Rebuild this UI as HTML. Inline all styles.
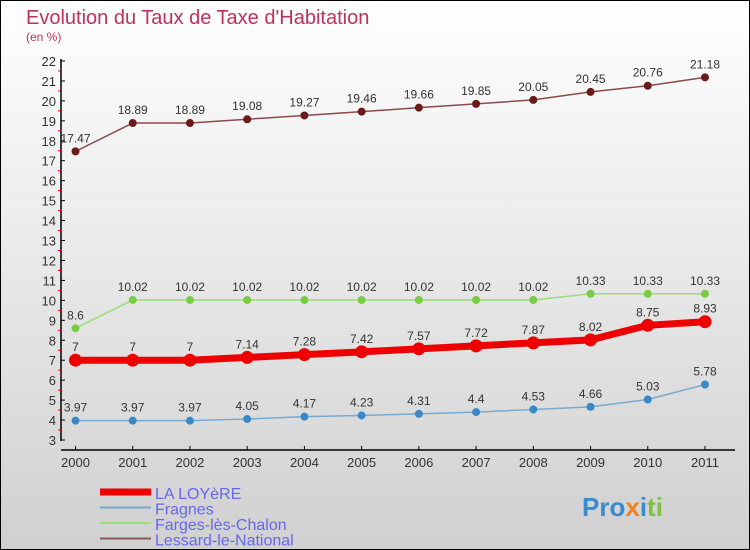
<!DOCTYPE html>
<html><head><meta charset="utf-8"><style>
body{margin:0}
#c{width:750px;height:550px;position:relative;box-sizing:border-box;border:1px solid #000;background:linear-gradient(#fff,#d0d0d0);font-family:"Liberation Sans",sans-serif;overflow:hidden}
</style></head><body>
<div id="c">
<svg id="s" width="750" height="550" style="position:absolute;left:-1px;top:-1px">
<text x="26" y="24" font-size="20" fill="#c0305a">Evolution du Taux de Taxe d'Habitation</text>
<text x="26" y="41" font-size="12" fill="#c0305a">(en %)</text>
</svg>
</div>
<script>
const years=['2000','2001','2002','2003','2004','2005','2006','2007','2008','2009','2010','2011'];
const loyere=[7,7,7,7.14,7.28,7.42,7.57,7.72,7.87,8.02,8.75,8.93];
const fragnes=[3.97,3.97,3.97,4.05,4.17,4.23,4.31,4.4,4.53,4.66,5.03,5.78];
const farges=[8.6,10.02,10.02,10.02,10.02,10.02,10.02,10.02,10.02,10.33,10.33,10.33];
const lessard=[17.47,18.89,18.89,19.08,19.27,19.46,19.66,19.85,20.05,20.45,20.76,21.18];
const yTicks=[3,4,5,6,7,8,9,10,11,12,13,14,15,16,17,18,19,20,21,22];
const svg=document.getElementById('s');const NS='http://www.w3.org/2000/svg';
function X(i){return 75.5+i*(705-75.5)/(years.length-1);}
function Y(v){return 440-(v-3)*(379/19);}
function el(t,a,p){const e=document.createElementNS(NS,t);for(const k in a)e.setAttribute(k,a[k]);(p||svg).appendChild(e);return e;}
let ax=el('line',{x1:61,y1:59,x2:61,y2:441,stroke:'#000','stroke-width':1.5});

let xa=el('line',{x1:61,y1:450,x2:735,y2:450,stroke:'#000','stroke-width':1.5});

yTicks.forEach(v=>{const y=Y(v);
 el('line',{x1:61,y1:y,x2:65,y2:y,stroke:'#000'});
 if(v<22)el('line',{x1:58,y1:y-10,x2:61,y2:y-10,stroke:'#f00'});
 const t=el('text',{x:56,y:y+5,'font-size':13,fill:'#333','text-anchor':'end'});t.textContent=v;
 });
years.forEach((yr,i)=>{const x=X(i);el('line',{x1:x,y1:446,x2:x,y2:450,stroke:'#000'});
 const t=el('text',{x:x,y:467,'font-size':13,fill:'#333','text-anchor':'middle'});t.textContent=yr;
 });
function series(name,d,col,lw,r,dot){
 const g=el('g',{});
 el('polyline',{points:d.map((v,i)=>X(i)+','+Y(v)).join(' '),fill:'none',stroke:col,'stroke-width':lw},g);
 d.forEach((v,i)=>{const c=el('circle',{cx:X(i),cy:Y(v),r:r,fill:dot},g);
  
  const t=el('text',{x:X(i),y:Y(v)-9,'font-size':12,fill:'#333','text-anchor':'middle'},g);t.textContent=v;});
}
series('lessard',lessard,'#8b4a4a',1.5,4,'#6b1a1a');
series('farges',farges,'#99dd77',1.5,4,'#77cc44');
series('fragnes',fragnes,'#77aad0',1.5,4,'#3a88c8');
series('loyere',loyere,'#ee0000',7,6.5,'#ee0000');
const leg=[['LA LOYèRE','#ee0000',7],['Fragnes','#77aad0',2],['Farges-lès-Chalon','#99dd77',2],['Lessard-le-National','#8b5a5a',2]];
leg.forEach((l,i)=>{const y=492+i*15.5;const g=el('g',{});
 
 el('line',{x1:100,y1:y,x2:151,y2:y,stroke:l[1],'stroke-width':l[2]},g);
 const t=el('text',{x:155,y:y+7,'font-size':16,fill:'#6666ee'},g);t.textContent=l[0];});
const p=el('text',{x:582,y:516,'font-size':26,'font-weight':'bold',fill:'#3a8ad0'});

p.innerHTML='<tspan fill="#3a8ad0">Pro</tspan><tspan fill="#f08020">x</tspan><tspan fill="#3a8ad0">i</tspan><tspan fill="#80c040">ti</tspan>';
</script>
</body></html>
